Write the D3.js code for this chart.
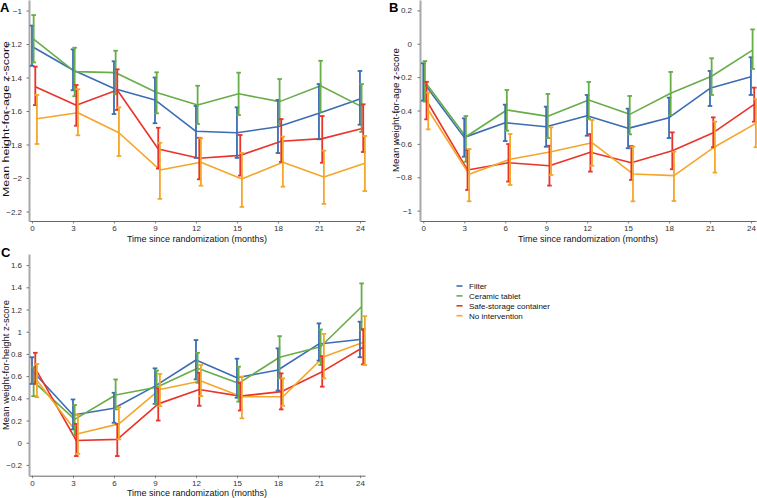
<!DOCTYPE html>
<html>
<head>
<meta charset="utf-8">
<script src="https://cdn.jsdelivr.net/npm/d3@7"></script>
<style>
  html, body { margin: 0; padding: 0; background: #fff; }
  svg { display: block; font-family: "Liberation Sans", Arial, sans-serif; }
</style>
</head>
<body>
<svg id="chart" width="757" height="498"></svg>
<script>
// ---------------- DATA ----------------
const months = [0, 3, 6, 9, 12, 15, 18, 21, 24];
const seriesNames = ["Filter", "Ceramic tablet", "Safe-storage container", "No intervention"];
const seriesColors = ["#3a6db4", "#67ad48", "#ea3329", "#f4a62a"];

// Panel A: height-for-age z-score
const hazFilterMean = [-1.215, -1.355, -1.465, -1.534, -1.721, -1.73, -1.694, -1.614, -1.528];
const hazFilterLo   = [-1.33, -1.476, -1.618, -1.673, -1.88, -1.88, -1.851, -1.769, -1.682];
const hazFilterHi   = [-1.09, -1.232, -1.303, -1.40, -1.57, -1.578, -1.534, -1.439, -1.361];
const hazCeramicMean = [-1.17, -1.365, -1.371, -1.49, -1.564, -1.497, -1.544, -1.449, -1.574];
const hazCeramicLo   = [-1.31, -1.512, -1.50, -1.614, -1.678, -1.624, -1.678, -1.604, -1.725];
const hazCeramicHi   = [-1.027, -1.222, -1.24, -1.369, -1.449, -1.371, -1.409, -1.30, -1.439];
const hazSafeMean = [-1.455, -1.566, -1.475, -1.827, -1.882, -1.865, -1.781, -1.765, -1.703];
const hazSafeLo   = [-1.565, -1.688, -1.594, -1.944, -2.008, -1.986, -1.904, -1.909, -1.845];
const hazSafeHi   = [-1.335, -1.445, -1.351, -1.70, -1.76, -1.743, -1.648, -1.63, -1.56];
const hazNoneMean = [-1.646, -1.61, -1.73, -1.952, -1.906, -2.006, -1.906, -1.994, -1.912];
const hazNoneLo   = [-1.797, -1.745, -1.869, -2.125, -2.046, -2.173, -2.052, -2.155, -2.078];
const hazNoneHi   = [-1.504, -1.47, -1.578, -1.79, -1.763, -1.851, -1.753, -1.837, -1.749];

// Panel B: weight-for-age z-score
const wazFilterMean = [-0.231, -0.561, -0.473, -0.497, -0.431, -0.507, -0.443, -0.267, -0.198];
const wazFilterLo   = [-0.341, -0.677, -0.583, -0.617, -0.551, -0.626, -0.565, -0.373, -0.307];
const wazFilterHi   = [-0.117, -0.447, -0.365, -0.377, -0.307, -0.389, -0.323, -0.163, -0.081];
const wazCeramicMean = [-0.228, -0.557, -0.397, -0.435, -0.337, -0.423, -0.297, -0.195, -0.038];
const wazCeramicLo   = [-0.347, -0.707, -0.521, -0.565, -0.451, -0.543, -0.427, -0.307, -0.151];
const wazCeramicHi   = [-0.104, -0.433, -0.277, -0.301, -0.229, -0.313, -0.169, -0.087, 0.086];
const wazSafeMean = [-0.34, -0.756, -0.713, -0.731, -0.650, -0.713, -0.641, -0.533, -0.363];
const wazSafeLo   = [-0.453, -0.876, -0.826, -0.850, -0.766, -0.816, -0.752, -0.620, -0.467];
const wazSafeHi   = [-0.228, -0.637, -0.601, -0.611, -0.541, -0.613, -0.531, -0.441, -0.263];
const wazNoneMean = [-0.397, -0.782, -0.692, -0.647, -0.593, -0.780, -0.790, -0.617, -0.477];
const wazNoneLo   = [-0.513, -0.944, -0.846, -0.786, -0.731, -0.944, -0.942, -0.772, -0.620];
const wazNoneHi   = [-0.293, -0.631, -0.541, -0.501, -0.457, -0.617, -0.647, -0.467, -0.333];

// Panel C: weight-for-height z-score
const whzFilterMean = [0.65, 0.25, 0.31, 0.51, 0.745, 0.585, 0.655, 0.89, 0.93];
const whzFilterLo   = [0.53, 0.12, 0.18, 0.35, 0.571, 0.405, 0.47, 0.74, 0.77];
const whzFilterHi   = [0.77, 0.39, 0.45, 0.67, 0.925, 0.757, 0.85, 1.075, 1.09];
const whzCeramicMean = [0.55, 0.21, 0.43, 0.50, 0.67, 0.535, 0.77, 0.865, 1.225];
const whzCeramicLo   = [0.42, 0.07, 0.30, 0.35, 0.54, 0.37, 0.58, 0.70, 1.015];
const whzCeramicHi   = [0.68, 0.34, 0.57, 0.65, 0.81, 0.685, 0.96, 1.02, 1.435];
const whzSafeMean = [0.67, 0.02, 0.03, 0.35, 0.48, 0.42, 0.46, 0.64, 0.86];
const whzSafeLo   = [0.53, -0.12, -0.12, 0.20, 0.333, 0.29, 0.30, 0.505, 0.706];
const whzSafeHi   = [0.81, 0.17, 0.17, 0.49, 0.63, 0.54, 0.625, 0.78, 1.024];
const whzNoneMean = [0.56, 0.08, 0.17, 0.48, 0.556, 0.414, 0.414, 0.775, 0.91];
const whzNoneLo   = [0.41, -0.10, 0.03, 0.33, 0.42, 0.22, 0.333, 0.58, 0.70];
const whzNoneHi   = [0.71, 0.25, 0.32, 0.62, 0.70, 0.595, 0.58, 0.98, 1.14];

const hazTicks = [-2.2, -2, -1.8, -1.6, -1.4, -1.2, -1];
const wazTicks = [-1, -0.8, -0.6, -0.4, -0.2, 0, 0.2];
const whzTicks = [-0.2, 0, 0.2, 0.4, 0.6, 0.8, 1, 1.2, 1.4, 1.6];

// ---------------- DRAW ----------------
const svg = d3.select("#chart");
const dodge = [0, 0.12, 0.24, 0.36];
const fmt = d3.format(".2~f");

function drawPanel(cfg) {
  const x = d3.scaleLinear().domain(cfg.xDomain).range([cfg.left, cfg.right]);
  const y = d3.scaleLinear().domain(cfg.yDomain).range([cfg.bottom, cfg.top]);
  const g = svg.append("g");

  // x axis
  const xa = g.append("g").attr("transform", `translate(0,${cfg.bottom})`)
    .call(d3.axisBottom(x).tickValues(months).tickFormat(d3.format("d"))
      .tickSizeInner(2.5).tickSizeOuter(0).tickPadding(2));
  xa.select(".domain").attr("stroke", "#666").attr("stroke-width", 1);
  xa.selectAll(".tick line").attr("stroke", "#666").attr("stroke-width", 0.8);
  xa.selectAll(".tick text").attr("fill", "#333").attr("font-size", 8)
    .attr("font-family", "Liberation Sans, Arial, sans-serif");

  // y axis
  const ya = g.append("g").attr("transform", `translate(${cfg.left},0)`)
    .call(d3.axisLeft(y).tickValues(cfg.yTicks).tickFormat(fmt)
      .tickSizeInner(2.5).tickSizeOuter(0).tickPadding(cfg.yPad));
  ya.select(".domain").attr("stroke", "#a8a8a8").attr("stroke-width", 2);
  ya.selectAll(".tick line").attr("stroke", "#555").attr("stroke-width", 0.8);
  ya.selectAll(".tick text").attr("fill", "#333").attr("font-size", 8)
    .attr("font-family", "Liberation Sans, Arial, sans-serif");

  // lines
  cfg.series.forEach((s, i) => {
    const pts = months.map((m, j) => [x(m + dodge[i]), y(s.mean[j])]);
    g.append("path")
      .attr("d", d3.line()(pts))
      .attr("fill", "none")
      .attr("stroke", seriesColors[i])
      .attr("stroke-width", 1.6)
      .attr("stroke-linejoin", "round");
  });
  // error bars
  cfg.series.forEach((s, i) => {
    const eg = g.append("g").attr("stroke", seriesColors[i]).attr("stroke-width", 1.8).attr("fill", "none");
    months.forEach((m, j) => {
      const cx = x(m + dodge[i]);
      const y1 = y(s.lo[j]), y2 = y(s.hi[j]);
      eg.append("line").attr("x1", cx).attr("x2", cx).attr("y1", y1).attr("y2", y2);
      eg.append("line").attr("x1", cx - 2.3).attr("x2", cx + 2.3).attr("y1", y1).attr("y2", y1);
      eg.append("line").attr("x1", cx - 2.3).attr("x2", cx + 2.3).attr("y1", y2).attr("y2", y2);
    });
  });

  // axis titles
  g.append("text")
    .attr("x", (cfg.left + cfg.right) / 2)
    .attr("y", cfg.bottom + 20.5)
    .attr("text-anchor", "middle")
    .attr("font-size", 9)
    .attr("fill", "#111")
    .text("Time since randomization (months)");
  g.append("text")
    .attr("transform", `translate(${cfg.yTitleX},${cfg.yTitleY}) rotate(-90)`)
    .attr("text-anchor", "middle")
    .attr("font-size", cfg.yTitleSize)
    .attr("textLength", cfg.yTitleLen)
    .attr("lengthAdjust", "spacingAndGlyphs")
    .attr("fill", "#111")
    .text(cfg.yTitle);

  // panel label
  g.append("text")
    .attr("x", cfg.labelX).attr("y", cfg.labelY)
    .attr("font-size", 13).attr("font-weight", "bold")
    .attr("fill", "#000")
    .text(cfg.label);
}

drawPanel({
  label: "A", labelX: 0, labelY: 12,
  left: 29, right: 365, top: 0, bottom: 221,
  xDomain: [-0.22, 24.37], yDomain: [-2.257, -0.937], yTicks: hazTicks, yPad: 4.5,
  yTitle: "Mean height-for-age z-score", yTitleX: 8.5, yTitleY: 119, yTitleSize: 9, yTitleLen: 156,
  series: [
    { mean: hazFilterMean, lo: hazFilterLo, hi: hazFilterHi },
    { mean: hazCeramicMean, lo: hazCeramicLo, hi: hazCeramicHi },
    { mean: hazSafeMean, lo: hazSafeLo, hi: hazSafeHi },
    { mean: hazNoneMean, lo: hazNoneLo, hi: hazNoneHi }
  ]
});

drawPanel({
  label: "B", labelX: 389, labelY: 12,
  left: 420, right: 756, top: 0, bottom: 221,
  xDomain: [-0.24, 24.37], yDomain: [-1.062, 0.262], yTicks: wazTicks, yPad: 5.5,
  yTitle: "Mean weight-for-age z-score", yTitleX: 398.5, yTitleY: 110, yTitleSize: 9.5, yTitleLen: 124,
  series: [
    { mean: wazFilterMean, lo: wazFilterLo, hi: wazFilterHi },
    { mean: wazCeramicMean, lo: wazCeramicLo, hi: wazCeramicHi },
    { mean: wazSafeMean, lo: wazSafeLo, hi: wazSafeHi },
    { mean: wazNoneMean, lo: wazNoneLo, hi: wazNoneHi }
  ]
});

drawPanel({
  label: "C", labelX: 1, labelY: 257,
  left: 29, right: 365, top: 254, bottom: 475.7,
  xDomain: [-0.22, 24.37], yDomain: [-0.297, 1.70], yTicks: whzTicks, yPad: 4.5,
  yTitle: "Mean weight-for-height z-score", yTitleX: 9, yTitleY: 365, yTitleSize: 9.5, yTitleLen: 130,
  series: [
    { mean: whzFilterMean, lo: whzFilterLo, hi: whzFilterHi },
    { mean: whzCeramicMean, lo: whzCeramicLo, hi: whzCeramicHi },
    { mean: whzSafeMean, lo: whzSafeLo, hi: whzSafeHi },
    { mean: whzNoneMean, lo: whzNoneLo, hi: whzNoneHi }
  ]
});

// legend
const leg = svg.append("g").attr("transform", "translate(456.5,286)");
seriesNames.forEach((name, i) => {
  const row = leg.append("g").attr("transform", `translate(0,${i * 9.9})`);
  row.append("line").attr("x1", 0).attr("x2", 6).attr("y1", 0).attr("y2", 0)
    .attr("stroke", seriesColors[i]).attr("stroke-width", 1.6);
  row.append("text").attr("x", 12.5).attr("y", 2.9)
    .attr("font-size", 8).attr("fill", "#111").text(name);
});
</script>
</body>
</html>
